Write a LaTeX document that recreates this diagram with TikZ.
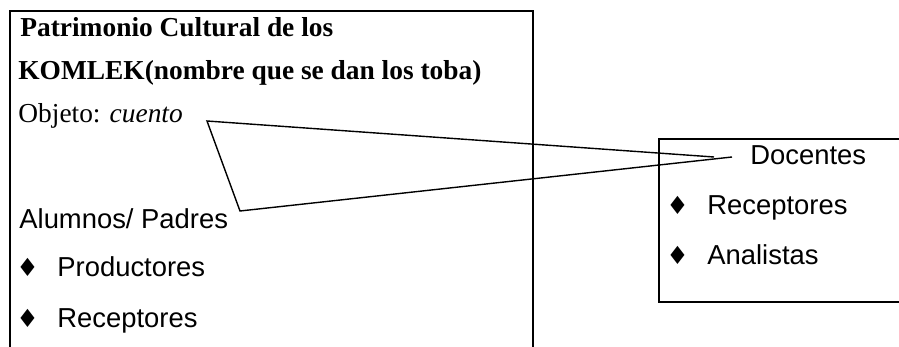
\documentclass[tikz,border=0pt]{standalone}
\usepackage{fontspec}
\setmainfont{Liberation Serif}
\newfontfamily\arialfont{Liberation Sans}
\newfontfamily\symfont{DejaVu Sans}
\usetikzlibrary{positioning}
\tikzset{
  txt/.style={anchor=base west,inner sep=0pt,font=\fontsize{13.7}{16}\selectfont},
  sanstxt/.style={txt,font=\fontsize{13.7}{16}\selectfont\arialfont},
  frame/.style={line width=.8pt},
}
\newcommand{\diamitem}[4]{%
  \node[txt,font=\fontsize{12.5}{14}\selectfont\symfont] (#1d) at (#2,#3) {♦};
  \node[sanstxt] (#1) at ({#2+41},#3) {#4};
}

\begin{document}
\begin{tikzpicture}[x=.5pt,y=-.5pt]
    \useasboundingbox (0,0) rectangle (899,347);
    % left box, open at the bottom
    \draw[frame] (10,347) -- (10,11) -- (533,11) -- (533,347);
    \node[txt,font=\fontsize{13.7}{16}\selectfont\bfseries] (patr) at (20,37) {Patrimonio Cultural de los};
    \node[txt,font=\fontsize{13.7}{16}\selectfont\bfseries] (komlek) at (18,80) {KOMLEK(nombre que se dan los toba)};
    \node[txt] (obj) at (18,123) {Objeto: \textit{cuento}};
    \node[sanstxt] (alum) at (19,228) {Alumnos/ Padres};
    \diamitem{prod}{16}{277}{Productores}
    \diamitem{recl}{16}{327}{Receptores}
    % right box, open at the right
    \draw[frame] (899,139) -- (659,139) -- (659,302) -- (899,302);
    \node[sanstxt] (doc) at (750,165) {Docentes};
    \diamitem{recr}{666}{215}{Receptores}
    \diamitem{anal}{666}{264}{Analistas}
    % callout
    \coordinate (tipa) at (714,157);
    \coordinate (tipb) at (732,157);
    \coordinate (ca) at (207,121);
    \coordinate (cb) at (240,211);
    \draw[line width=.7pt] (tipa) -- (ca) -- (cb) -- (tipb);
\end{tikzpicture}
\end{document}
